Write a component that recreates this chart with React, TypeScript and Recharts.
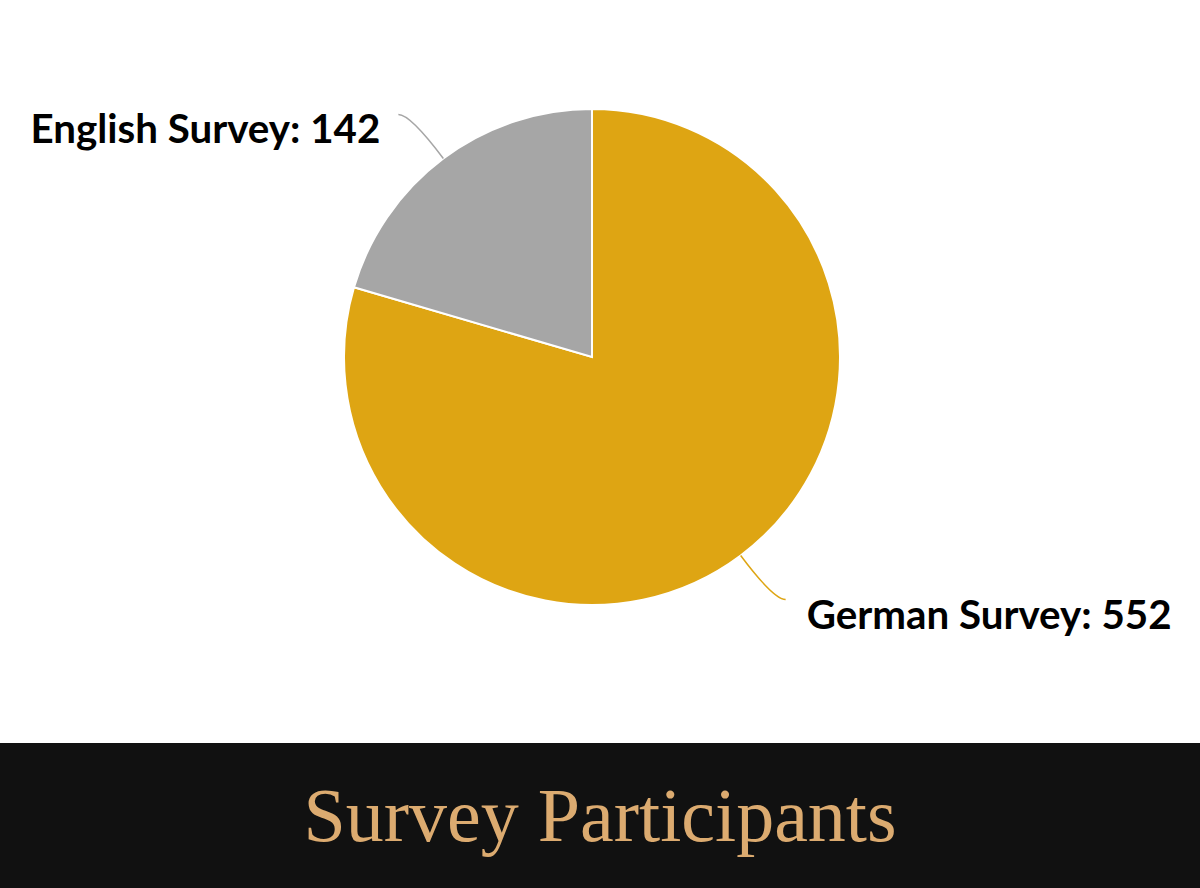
import React from "react";
import { Cell, Pie, PieChart } from "recharts";

const surveys = ["German Survey", "English Survey"];
const participants = [552, 142];
const sliceColors = ["#DEA513", "#A6A6A6"];
const lineColors = ["#DEA513", "#A6A6A6"];

const data = surveys.map((name, i) => ({ name, value: participants[i] }));

const RAD = Math.PI / 180;

// curved leader line + bold label, positioned from the slice's mid angle
function SliceLabel(props: any) {
  const { cx, cy, midAngle, outerRadius, name, value, index } = props;
  const cos = Math.cos(-midAngle * RAD);
  const sin = Math.sin(-midAngle * RAD);
  const sx = cx + outerRadius * cos;
  const sy = cy + outerRadius * sin;
  const mx = cx + (outerRadius + 55) * cos;
  const my = cy + (outerRadius + 55) * sin;
  const left = cos < 0;
  const ex = mx + (left ? -12 : 12);
  const ey = my;
  return (
    <g>
      <path
        d={`M${sx},${sy} Q${mx},${my} ${ex},${ey}`}
        stroke={lineColors[index]}
        strokeWidth={1.5}
        fill="none"
      />
      <text
        x={ex + (left ? -18 : 21)}
        y={ey + 29}
        textAnchor={left ? "end" : "start"}
        fill="#000"
        fontFamily="Lato"
        fontWeight={700}
        fontSize={40.3}
      >
        {`${name}: ${value}`}
      </text>
    </g>
  );
}

export default function App() {
  return (
    <div
      style={{
        position: "absolute",
        left: 0,
        top: 0,
        width: 1200,
        height: 888,
        background: "#fff",
        overflow: "hidden",
      }}
    >
      <PieChart width={1200} height={743} margin={{ top: 0, right: 0, bottom: 0, left: 0 }}>
        <Pie
          data={data}
          dataKey="value"
          nameKey="name"
          cx={592}
          cy={357}
          outerRadius={248}
          startAngle={90}
          endAngle={-270}
          stroke="#fff"
          strokeWidth={2}
          label={SliceLabel}
          labelLine={false}
          isAnimationActive={false}
        >
          {data.map((d, i) => (
            <Cell key={d.name} fill={sliceColors[i]} />
          ))}
        </Pie>
      </PieChart>
      <div
        style={{
          position: "absolute",
          left: 0,
          top: 743,
          width: 1200,
          height: 145,
          background: "#111111",
          color: "#DCAB70",
          fontFamily: "'Liberation Serif', serif",
          fontSize: 76,
          lineHeight: "145px",
          textAlign: "center",
        }}
      >
        Survey Participants
      </div>
    </div>
  );
}
